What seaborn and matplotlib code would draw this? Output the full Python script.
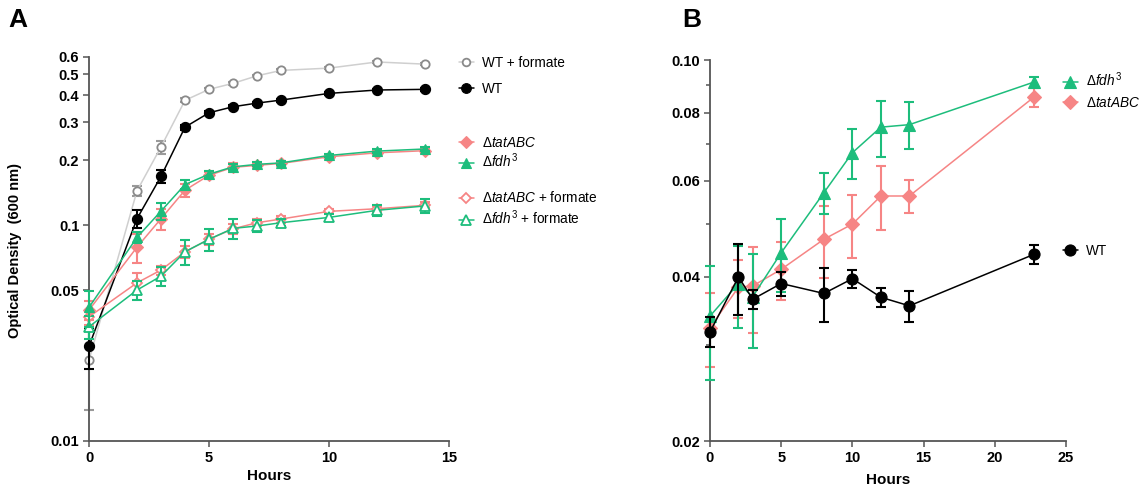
import numpy as np
import pandas as pd
import matplotlib
matplotlib.use("Agg")
import matplotlib.pyplot as plt
from matplotlib.lines import Line2D
from matplotlib.ticker import NullLocator, NullFormatter, FixedLocator
import seaborn as sns

# ---------------- data ----------------
hours_a = [0, 2, 3, 4, 5, 6, 7, 8, 10, 12, 14]
wt_formate = [0.0237, 0.144, 0.23, 0.378, 0.425, 0.453, 0.491, 0.52, 0.533, 0.569, 0.556]
wt_formate_err = [0.0098, 0.008, 0.016, 0.008, 0.006, 0.006, 0.006, 0.006, 0.006, 0.006, 0.006]
wt_a = [0.0275, 0.107, 0.168, 0.284, 0.331, 0.353, 0.367, 0.379, 0.407, 0.422, 0.425]
wt_a_err = [0.006, 0.01, 0.012, 0.008, 0.007, 0.006, 0.006, 0.006, 0.006, 0.006, 0.006]
tat_a = [0.0404, 0.079, 0.107, 0.145, 0.170, 0.185, 0.189, 0.193, 0.207, 0.216, 0.221]
tat_a_err = [0.004, 0.012, 0.012, 0.01, 0.006, 0.009, 0.005, 0.005, 0.005, 0.005, 0.005]
fdh_a = [0.0416, 0.0877, 0.116, 0.154, 0.172, 0.186, 0.191, 0.194, 0.210, 0.220, 0.225]
fdh_a_err = [0.008, 0.005, 0.01, 0.007, 0.006, 0.006, 0.004, 0.004, 0.004, 0.004, 0.004]
tat_formate = [0.0376, 0.054, 0.0619, 0.0752, 0.0859, 0.096, 0.1025, 0.1066, 0.1157, 0.119, 0.1234]
tat_formate_err = [0.003, 0.006, 0.003, 0.005, 0.005, 0.005, 0.004, 0.004, 0.003, 0.004, 0.004]
fdh_formate = [0.0338, 0.050, 0.058, 0.0752, 0.0859, 0.0965, 0.099, 0.1025, 0.1085, 0.117, 0.1226]
fdh_formate_err = [0.004, 0.005, 0.006, 0.010, 0.010, 0.010, 0.006, 0.004, 0.004, 0.007, 0.009]

hours_b = [0, 2, 3, 5, 8, 10, 12, 14, 22.75]
wt_b = [0.0317, 0.040, 0.0364, 0.0389, 0.0373, 0.0397, 0.0367, 0.0354, 0.044]
wt_b_err = [0.002, 0.006, 0.0014, 0.002, 0.0042, 0.0015, 0.0015, 0.0023, 0.0018]
fdh_b = [0.0339, 0.0389, 0.0368, 0.0443, 0.0571, 0.0676, 0.0753, 0.0761, 0.0911]
fdh_b_err = [0.008, 0.0067, 0.0072, 0.0067, 0.005, 0.007, 0.0088, 0.0075, 0.002]
tat_b = [0.0323, 0.0383, 0.0385, 0.0413, 0.0469, 0.050, 0.0563, 0.0563, 0.0855]
tat_b_err = [0.005, 0.0047, 0.0069, 0.005, 0.007, 0.0066, 0.0076, 0.004, 0.0035]

yticks_a = [0.01, 0.05, 0.1, 0.2, 0.3, 0.4, 0.5, 0.6]
yticklabels_a = ["0.01", "0.05", "0.1", "0.2", "0.3", "0.4", "0.5", "0.6"]
yticks_b = [0.02, 0.04, 0.06, 0.08, 0.10]
yticklabels_b = ["0.02", "0.04", "0.06", "0.08", "0.10"]
yminor_b = [0.03, 0.05, 0.07, 0.09]

label_wtf = "WT + formate"
label_wt = "WT"
label_tat = r"$\Delta\mathit{tatABC}$"
label_fdh = r"$\Delta\mathit{fdh}^{\mathregular{3}}$"
label_tatf = r"$\Delta\mathit{tatABC}$ + formate"
label_fdhf = r"$\Delta\mathit{fdh}^{\mathregular{3}}$ + formate"

# ---------------- style ----------------
sns.set_theme(style="ticks")
plt.rcParams["font.family"] = ["Liberation Sans", "DejaVu Sans"]
plt.rcParams["mathtext.fontset"] = "custom"
plt.rcParams["mathtext.rm"] = "Liberation Sans"
plt.rcParams["mathtext.it"] = "Liberation Sans:italic"
plt.rcParams["mathtext.bf"] = "Liberation Sans:bold"
plt.rcParams["text.color"] = "black"
plt.rcParams["axes.labelcolor"] = "black"
plt.rcParams["xtick.labelcolor"] = "black"
plt.rcParams["ytick.labelcolor"] = "black"

GREEN = "#1DBD7C"
PINK = "#F68585"
BLACK = "#000000"
GRAY_LINE = "#CFCFCF"
GRAY_MK = "#8A8A8A"
SPINE = "#555555"

fig = plt.figure(figsize=(11.45, 4.87), dpi=100)
axA = fig.add_axes([89 / 1145, 46 / 487, 360 / 1145, 384 / 487])
axB = fig.add_axes([710 / 1145, 46 / 487, 356 / 1145, 381 / 487])


def series(ax, x, y, err, color, marker, ms, open_=False, lc=None, ec=None, z=2):
    ax.errorbar(x, y, yerr=err, fmt="none", ecolor=ec or color, elinewidth=1.5,
                capsize=3.6, capthick=1.5, zorder=z, clip_on=False)
    sns.lineplot(x=x, y=y, ax=ax, color=lc or color, marker=marker, markersize=ms,
                 linewidth=1.1, zorder=z + 0.5, clip_on=False)
    ln = ax.lines[-1]
    ln.set_color(lc or color)
    ln.set_markeredgecolor(color)
    ln.set_markerfacecolor("white" if open_ else color)
    ln.set_markeredgewidth(1.3 if open_ else 0.8)


# Panel A
series(axA, hours_a, wt_formate, wt_formate_err, GRAY_MK, "o", 6, open_=True, lc=GRAY_LINE, ec="#9A9A9A", z=1)
series(axA, hours_a, wt_a, wt_a_err, BLACK, "o", 7.3, z=3)
series(axA, hours_a, tat_formate, tat_formate_err, PINK, "D", 5.5, open_=True, z=4)
series(axA, hours_a, fdh_formate, fdh_formate_err, GREEN, "^", 6.5, open_=True, z=5)
series(axA, hours_a, tat_a, tat_a_err, PINK, "D", 6, z=6)
series(axA, hours_a, fdh_a, fdh_a_err, GREEN, "^", 7.5, z=7)

# Panel B
series(axB, hours_b, tat_b, tat_b_err, PINK, "D", 7, z=2)
series(axB, hours_b, fdh_b, fdh_b_err, GREEN, "^", 8.3, z=3)
series(axB, hours_b, wt_b, wt_b_err, BLACK, "o", 8, z=4)

for ax in (axA, axB):
    ax.set_yscale("log")
    for s in ("top", "right"):
        ax.spines[s].set_visible(False)
    for s in ("left", "bottom"):
        ax.spines[s].set_color(SPINE)
        ax.spines[s].set_linewidth(1.3)
    ax.tick_params(axis="both", which="both", direction="out", color=SPINE,
                   width=1.1, pad=3, labelcolor="black")
    ax.tick_params(which="major", length=4)
    ax.tick_params(which="minor", length=3)
    ax.set_ylabel("")
    ax.grid(False)

axA.set_xlim(0, 15)
axA.set_ylim(0.01, 0.6)
axA.set_xticks([0, 5, 10, 15])
axA.yaxis.set_major_locator(FixedLocator(yticks_a))
axA.yaxis.set_minor_locator(NullLocator())
axA.set_yticklabels(yticklabels_a)
axA.set_xlabel("Hours", fontsize=11, fontweight="bold", labelpad=3, color="black")

axB.set_xlim(0, 25)
axB.set_ylim(0.02, 0.10)
axB.set_xticks([0, 5, 10, 15, 20, 25])
axB.yaxis.set_major_locator(FixedLocator(yticks_b))
axB.yaxis.set_minor_locator(FixedLocator(yminor_b))
axB.yaxis.set_minor_formatter(NullFormatter())
axB.set_yticklabels(yticklabels_b)
axB.set_xlabel("Hours", fontsize=11, fontweight="bold", labelpad=6, color="black")

for ax in (axA, axB):
    for lab in ax.get_xticklabels() + ax.get_yticklabels():
        lab.set_fontweight("bold")
        lab.set_fontsize(10.5)
        lab.set_color("black")

fig.text(0.013, 1 - 250 / 487, "Optical Density  (600 nm)", rotation=90,
         ha="center", va="center", fontsize=10.5, fontweight="bold", color="black")
fig.text(8 / 1145, 1 - 20 / 487, "A", fontsize=19, fontweight="bold", ha="left", va="center", color="black")
fig.text(682 / 1145, 1 - 20 / 487, "B", fontsize=19, fontweight="bold", ha="left", va="center", color="black")


def handle(color, marker, ms, open_=False, lc=None):
    return Line2D([], [], color=lc or color, marker=marker, markersize=ms, linewidth=1.1,
                  markerfacecolor="white" if open_ else color, markeredgecolor=color,
                  markeredgewidth=1.3 if open_ else 0.8)


entries_a = [
    (handle(GRAY_MK, "o", 5.5, True, GRAY_LINE), label_wtf, 63),
    (handle(BLACK, "o", 7), label_wt, 89),
    (handle(PINK, "D", 6.5), label_tat, 143),
    (handle(GREEN, "^", 7.5), label_fdh, 161),
    (handle(PINK, "D", 5.5, True), label_tatf, 198),
    (handle(GREEN, "^", 6.5, True), label_fdhf, 218),
]
for h, lab, ypx in entries_a:
    fig.legend(handles=[h], labels=[lab], loc="center left",
               bbox_to_anchor=(459 / 1145, 1 - ypx / 487), frameon=False,
               borderpad=0, borderaxespad=0, handlelength=1.1, handletextpad=0.6,
               fontsize=9.8, labelcolor="black")

entries_b = [
    (handle(GREEN, "^", 8), label_fdh, 80),
    (handle(PINK, "D", 7), label_tat, 103),
    (handle(BLACK, "o", 8), label_wt, 251),
]
for h, lab, ypx in entries_b:
    fig.legend(handles=[h], labels=[lab], loc="center left",
               bbox_to_anchor=(1063 / 1145, 1 - ypx / 487), frameon=False,
               borderpad=0, borderaxespad=0, handlelength=1.1, handletextpad=0.6,
               fontsize=9.8, labelcolor="black")

fig.savefig("out.png", dpi=100)
